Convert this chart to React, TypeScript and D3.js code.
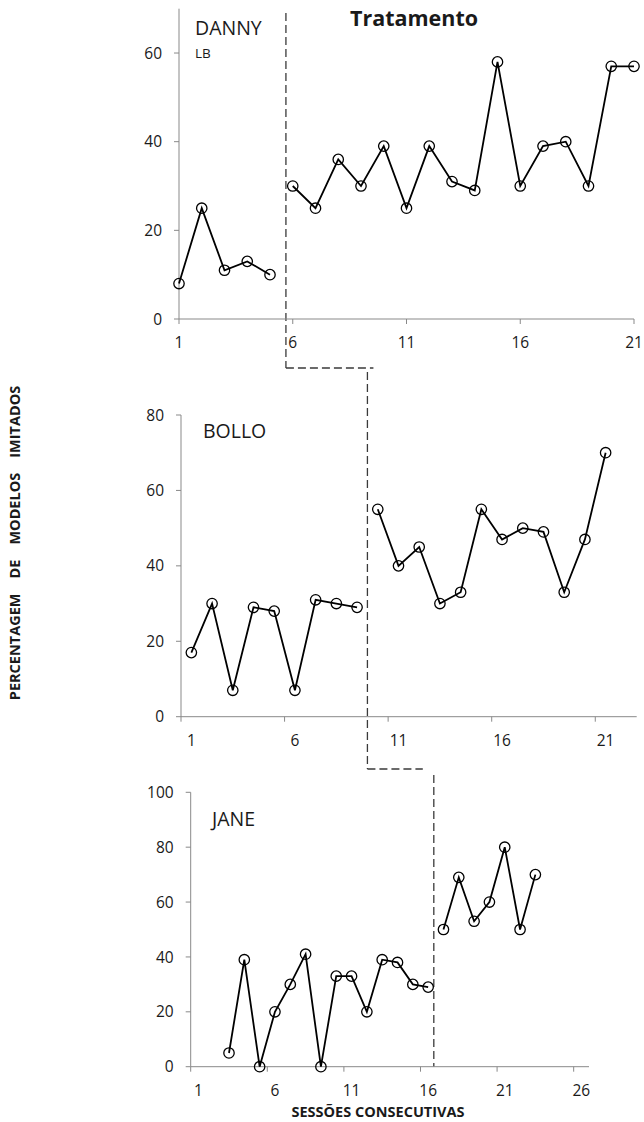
import * as d3 from 'd3';

// sessions start at 1 (Danny, Bollo) and 3 (Jane)
const dannyBaseline = [8, 25, 11, 13, 10];
const dannyTreatment = [30, 25, 36, 30, 39, 25, 39, 31, 29, 58, 30, 39, 40, 30, 57, 57];
const bolloBaseline = [17, 30, 7, 29, 28, 7, 31, 30, 29];
const bolloTreatment = [55, 40, 45, 30, 33, 55, 47, 50, 49, 33, 47, 70];
const janeBaseline = [5, 39, 0, 20, 30, 41, 0, 33, 33, 20, 39, 38, 30, 29];
const janeTreatment = [50, 69, 53, 60, 80, 50, 70];

const sessionTicks = [1, 6, 11, 16, 21];
const janeSessionTicks = [1, 6, 11, 16, 21, 26];
const dannyYTicks = [0, 20, 40, 60];
const bolloYTicks = [0, 20, 40, 60, 80];
const janeYTicks = [0, 20, 40, 60, 80, 100];

const AXIS = '#898989';
const TEXT = '#1a1a1a';
const DASH = '#3a3a3a';
const FONT = '"Open Sans", sans-serif';

type Pos = (s: number) => number;

function Series({ start, values, x, y }: { start: number; values: number[]; x: Pos; y: d3.ScaleLinear<number, number> }) {
  const pts: [number, number][] = values.map((v, i) => [x(start + i), y(v)]);
  const line = d3.line();
  return (
    <g>
      <path d={line(pts) || ''} fill="none" stroke="#000" strokeWidth={1.8} />
      {pts.map((p, i) => (
        <circle key={i} cx={p[0]} cy={p[1]} r={5.2} fill="none" stroke="#000" strokeWidth={1.3} />
      ))}
    </g>
  );
}

function Axes({ x0, x1, y, yTicks, xTicks, tickPos, labelPos }: {
  x0: number; x1: number; y: d3.ScaleLinear<number, number>; yTicks: number[];
  xTicks: number[]; tickPos: Pos; labelPos: Pos;
}) {
  const y0 = y(0);
  const yTop = y.range()[1];
  return (
    <g fontFamily={FONT} fontSize={15.5} fill={TEXT}>
      <line x1={x0} x2={x0} y1={yTop} y2={y0} stroke={AXIS} strokeWidth={1} />
      <line x1={x0} x2={x1} y1={y0} y2={y0} stroke={AXIS} strokeWidth={1} />
      {yTicks.map(t => (
        <g key={'y' + t}>
          <line x1={x0 - 5} x2={x0} y1={y(t)} y2={y(t)} stroke={AXIS} />
          <text x={x0 - 17} y={y(t)} dy="0.36em" textAnchor="end">{t}</text>
        </g>
      ))}
      {xTicks.map(t => (
        <g key={'x' + t}>
          <line x1={tickPos(t)} x2={tickPos(t)} y1={y0} y2={y0 + 5} stroke={AXIS} />
          <text x={labelPos(t)} y={y0 + 29} textAnchor="middle">{t}</text>
        </g>
      ))}
    </g>
  );
}

export default function App() {
  // Danny: linear session axis
  const xD = d3.scaleLinear().domain([1, 21]).range([179, 634]);
  const yD = d3.scaleLinear().domain([0, 70]).range([319, 8.7]);

  // Bollo: categories between tick marks
  const xBb = d3.scaleBand<number>().domain(d3.range(1, 23)).range([181, 636.7]);
  const xB: Pos = s => (xBb(s) as number) + xBb.bandwidth() / 2;
  const xBt: Pos = s => xBb(s) as number;
  const yB = d3.scaleLinear().domain([0, 80]).range([716.7, 415]);

  // Jane
  const xJb = d3.scaleBand<number>().domain(d3.range(1, 27)).range([190.7, 589]);
  const xJ: Pos = s => (xJb(s) as number) + xJb.bandwidth() / 2;
  const xJt: Pos = s => xJb(s) as number;
  const yJ = d3.scaleLinear().domain([0, 100]).range([1066.7, 792.3]);

  const phaseD = xD(5.7);
  const phaseB = xBt(10);
  const phaseJ = xJt(17) - 2;
  const dash = '8,4';

  return (
    <svg width={644} height={1122} style={{ position: 'absolute', left: 0, top: 0, background: '#fff' }}>
      <rect width={644} height={1122} fill="#fff" />

      {/* phase change lines */}
      <g stroke={DASH} strokeWidth={1.3} strokeDasharray={dash} fill="none">
        <line x1={phaseD} x2={phaseD} y1={13} y2={368} />
        <line x1={phaseD} x2={phaseB + 6} y1={368} y2={368} />
        <line x1={phaseB} x2={phaseB} y1={372} y2={769} />
        <line x1={phaseB} x2={phaseJ - 11} y1={769} y2={769} />
        <line x1={phaseJ} x2={phaseJ} y1={775} y2={yJ(0)} />
      </g>

      <Axes x0={179} x1={634} y={yD} yTicks={dannyYTicks} xTicks={sessionTicks} tickPos={xD} labelPos={xD} />
      <Series start={1} values={dannyBaseline} x={xD} y={yD} />
      <Series start={6} values={dannyTreatment} x={xD} y={yD} />

      <Axes x0={181} x1={636.7} y={yB} yTicks={bolloYTicks} xTicks={sessionTicks} tickPos={xBt} labelPos={xB} />
      <Series start={1} values={bolloBaseline} x={xB} y={yB} />
      <Series start={10} values={bolloTreatment} x={xB} y={yB} />

      <Axes x0={190.7} x1={589} y={yJ} yTicks={janeYTicks} xTicks={janeSessionTicks} tickPos={xJt} labelPos={xJ} />
      <Series start={3} values={janeBaseline} x={xJ} y={yJ} />
      <Series start={17} values={janeTreatment} x={xJ} y={yJ} />

      <g fontFamily={FONT} fill={TEXT}>
        <text x={414} y={26} textAnchor="middle" fontSize={21.5} fontWeight={700}>Tratamento</text>
        <text x={195} y={35} fontSize={19.5}>DANNY</text>
        <text x={195} y={58} fontSize={13.5}>LB</text>
        <text x={203} y={438} fontSize={19.5}>BOLLO</text>
        <text x={212} y={826} fontSize={19.5}>JANE</text>
        <text x={378} y={1117} textAnchor="middle" fontSize={14.5} fontWeight={700}>SESSÕES CONSECUTIVAS</text>
        <text
          transform="translate(20,543) rotate(-90)"
          textAnchor="middle"
          fontSize={14.5}
          fontWeight={700}
          style={{ whiteSpace: 'pre' }}
        >
          {'PERCENTAGEM    DE    MODELOS    IMITADOS'}
        </text>
      </g>
    </svg>
  );
}
